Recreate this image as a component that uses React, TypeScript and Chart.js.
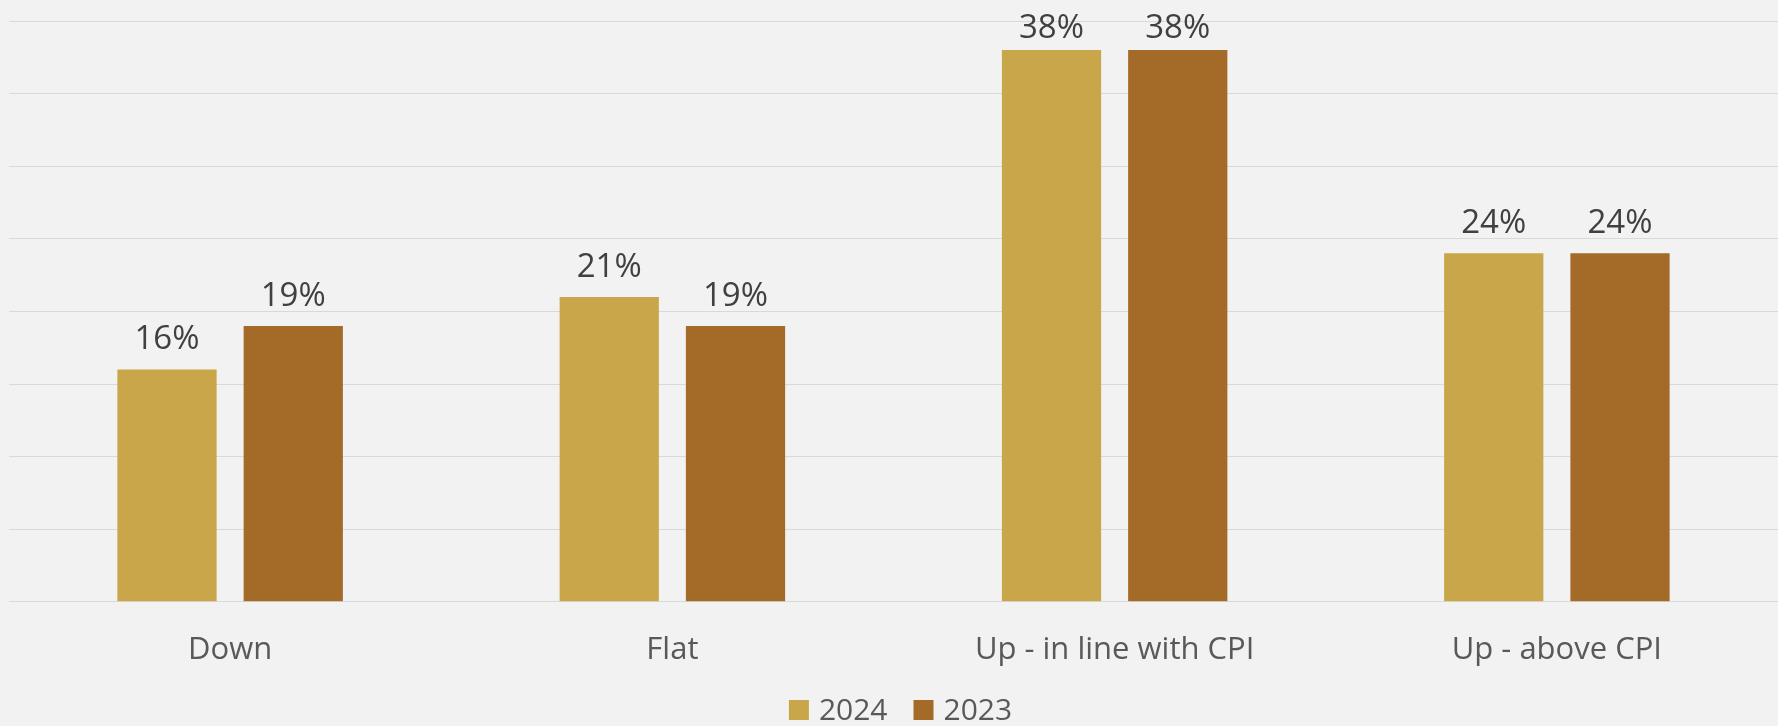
import React, { useEffect, useRef } from "react";
import { Chart, registerables } from "chart.js";

Chart.register(...registerables);

const categories = ["Down", "Flat", "Up - in line with CPI", "Up - above CPI"];
const seriesNames = ["2024", "2023"];
const values2024 = [16, 21, 38, 24];
const values2023 = [19, 19, 38, 24];
const colors = ["#C9A64A", "#A36A28"];

const FONT = "'Open Sans', 'DejaVu Sans', sans-serif";

const valueLabels = {
  id: "valueLabels",
  afterDatasetsDraw(chart: any) {
    const ctx = chart.ctx;
    ctx.save();
    ctx.font = `33px ${FONT}`;
    ctx.fillStyle = "#404040";
    ctx.textAlign = "center";
    ctx.textBaseline = "alphabetic";
    const minBaseline = chart.chartArea.top + 17;
    chart.data.datasets.forEach((ds: any, i: number) => {
      const meta = chart.getDatasetMeta(i);
      meta.data.forEach((bar: any, j: number) => {
        ctx.fillText(`${ds.data[j]}%`, bar.x, Math.max(bar.y - 20, minBaseline));
      });
    });
    ctx.restore();
  },
};

const customLegend = {
  id: "customLegend",
  afterDraw(chart: any) {
    const ctx = chart.ctx;
    ctx.save();
    ctx.font = `30px ${FONT}`;
    const box = 20;
    const boxGap = 10;
    const itemGap = 26;
    const items = chart.data.datasets.map((ds: any) => ({
      label: ds.label,
      color: ds.backgroundColor,
      w: box + boxGap + ctx.measureText(ds.label).width,
    }));
    const total = items.reduce((s: number, it: any) => s + it.w, 0) + itemGap * (items.length - 1);
    const cx = (chart.chartArea.left + chart.chartArea.right) / 2 + 7;
    const cy = chart.height - 16;
    let x = cx - total / 2;
    items.forEach((it: any) => {
      ctx.fillStyle = it.color;
      ctx.fillRect(x, cy - box / 2, box, box);
      ctx.fillStyle = "#595959";
      ctx.textAlign = "left";
      ctx.textBaseline = "middle";
      ctx.fillText(it.label, x + box + boxGap, cy + 1);
      x += it.w + itemGap;
    });
    ctx.restore();
  },
};

export default function App() {
  const ref = useRef<HTMLCanvasElement | null>(null);
  useEffect(() => {
    document.body.style.margin = "0";
    const chart = new Chart(ref.current!, {
      type: "bar",
      data: {
        labels: categories,
        datasets: [
          { label: seriesNames[0], data: values2024, backgroundColor: colors[0] },
          { label: seriesNames[1], data: values2023, backgroundColor: colors[1] },
        ],
      },
      options: {
        animation: false,
        responsive: false,
        maintainAspectRatio: false,
        layout: { padding: { top: 21, left: 9, right: 0, bottom: 35 } },
        datasets: { bar: { categoryPercentage: 0.571, barPercentage: 0.786 } },
        plugins: {
          legend: { display: false },
          tooltip: { enabled: false },
        },
        scales: {
          x: {
            grid: { display: false },
            border: { display: true, color: "#D9D9D9", width: 1 },
            ticks: { color: "#595959", font: { family: FONT, size: 31 }, padding: 22 },
          },
          y: {
            min: 0,
            max: 40,
            ticks: { display: false, stepSize: 5 },
            grid: { color: "#D9D9D9", lineWidth: 1, drawTicks: false },
            border: { display: false },
          },
        },
      },
      plugins: [valueLabels, customLegend],
    });
    return () => chart.destroy();
  }, []);
  return (
    <div style={{ width: 1778, height: 726, background: "#F2F2F2" }}>
      <canvas ref={ref} width={1778} height={726} />
    </div>
  );
}
